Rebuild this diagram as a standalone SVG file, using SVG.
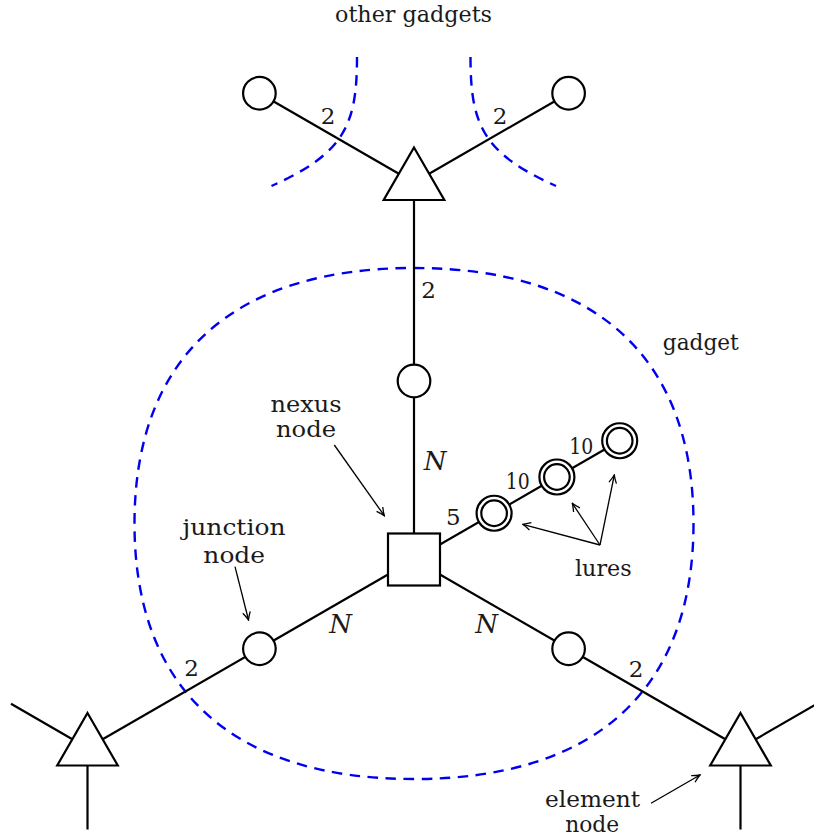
<svg xmlns="http://www.w3.org/2000/svg" width="814" height="839" viewBox="0 0 814 839">
<style>
.edge{stroke:#000;stroke-width:2.2;fill:none}
.node{stroke:#000;stroke-width:2.2;fill:#fff}
.gad{stroke:#0000f0;stroke-width:2.4;fill:none;stroke-dasharray:10.5 7.5}
.arr{stroke:#000;stroke-width:1.3;fill:none;marker-end:url(#ah)}
.lab{font-size:23px;text-anchor:middle}
.num{font-size:23px;text-anchor:middle}
.it{font-size:26px;font-style:italic;text-anchor:middle}
</style>
<defs>
<marker id="ah" viewBox="-9 -5 10 10" refX="0" refY="0" markerWidth="10" markerHeight="10" markerUnits="userSpaceOnUse" orient="auto">
<path d="M-8,-3.8 Q-3,-1 0,0 Q-3,1 -8,3.8" fill="none" stroke="#000" stroke-width="1.3"/>
</marker>
<path id="tri" d="M0,-35 L30.3,17.5 L-30.3,17.5 Z"/>
</defs>

<g id="gadget-boundaries">
<path class="gad" d="M693.5,523.5 C693.5,689.6 595.7,779 414,779 C232.3,779 134.5,689.6 134.5,523.5 C134.5,357.4 232.3,268 414,268 C595.7,268 693.5,357.4 693.5,523.5 Z"/>
<path class="gad" d="M357,57 C357,125 344.5,153.2 271.5,186"/>
<path class="gad" d="M470.5,57 C470.5,125 483,153.2 556,186"/>
</g>

<g id="connectors">
<line class="edge" x1="259.4" y1="93.25" x2="414" y2="182.5"/>
<line class="edge" x1="568.6" y1="93.25" x2="414" y2="182.5"/>
<line class="edge" x1="414" y1="182.5" x2="414" y2="381"/>
<line class="edge" x1="414" y1="381" x2="414" y2="559.5"/>
<line class="edge" x1="414" y1="559.5" x2="259.4" y2="648.75"/>
<line class="edge" x1="259.4" y1="648.75" x2="87.5" y2="748"/>
<line class="edge" x1="414" y1="559.5" x2="568.6" y2="648.75"/>
<line class="edge" x1="568.6" y1="648.75" x2="740.5" y2="748"/>
<line class="edge" x1="414" y1="559.5" x2="619.7" y2="440.75"/>
<line class="edge" x1="87.5" y1="748" x2="11" y2="703.8"/>
<line class="edge" x1="87.5" y1="748" x2="87.5" y2="829.5"/>
<line class="edge" x1="740.5" y1="748" x2="817" y2="703.8"/>
<line class="edge" x1="740.5" y1="748" x2="740.5" y2="829.5"/>
</g>

<g id="element-top"><use href="#tri" class="node" x="414" y="182.5"/></g>
<g id="element-bl"><use href="#tri" class="node" x="87.5" y="748"/></g>
<g id="element-br"><use href="#tri" class="node" x="740.5" y="748"/></g>
<g id="circle-top-left"><circle class="node" cx="259.4" cy="93.25" r="16.3"/></g>
<g id="circle-top-right"><circle class="node" cx="568.6" cy="93.25" r="16.3"/></g>
<g id="junction-top"><circle class="node" cx="414" cy="381" r="16.3"/></g>
<g id="junction-left"><circle class="node" cx="259.4" cy="648.75" r="16.3"/></g>
<g id="junction-right"><circle class="node" cx="568.6" cy="648.75" r="16.3"/></g>
<g id="nexus"><rect class="node" x="388" y="533.5" width="52" height="52"/></g>
<g id="lure1"><circle class="node" cx="494.1" cy="513.25" r="17.5"/><circle class="node" cx="494.1" cy="513.25" r="12.8"/></g>
<g id="lure2"><circle class="node" cx="556.9" cy="477" r="17.5"/><circle class="node" cx="556.9" cy="477" r="12.8"/></g>
<g id="lure3"><circle class="node" cx="619.7" cy="440.75" r="17.5"/><circle class="node" cx="619.7" cy="440.75" r="12.8"/></g>

<g id="edge-labels" font-family="DejaVu Serif" fill="#1a1a1a">
<text class="num" x="328" y="123.5">2</text>
<text class="num" x="500" y="123.5">2</text>
<text class="num" x="428.5" y="297.5">2</text>
<text class="it" x="435" y="469.5">N</text>
<text class="it" x="340.5" y="633.3">N</text>
<text class="it" x="486.5" y="633.3">N</text>
<text class="num" x="191.5" y="676">2</text>
<text class="num" x="636" y="676.5">2</text>
<text class="num" x="453.3" y="525">5</text>
<text class="num" x="517.7" y="489" textLength="24" lengthAdjust="spacingAndGlyphs">10</text>
<text class="num" x="581.3" y="454.3" textLength="24" lengthAdjust="spacingAndGlyphs">10</text>
</g>

<g id="annotations" font-family="DejaVu Serif" fill="#1a1a1a">
<text class="lab" x="413.5" y="21.5" font-size="22" textLength="157" lengthAdjust="spacingAndGlyphs">other gadgets</text>
<text class="lab" x="700.8" y="350" font-size="22" textLength="76" lengthAdjust="spacingAndGlyphs">gadget</text>
<text class="lab" x="306" y="411.5" font-size="24" textLength="71" lengthAdjust="spacingAndGlyphs">nexus</text>
<text class="lab" x="306" y="437" font-size="24" textLength="60" lengthAdjust="spacingAndGlyphs">node</text>
<text class="lab" x="234" y="535" font-size="24" textLength="103" lengthAdjust="spacingAndGlyphs">junction</text>
<text class="lab" x="234.2" y="563.3" font-size="24" textLength="61.7" lengthAdjust="spacingAndGlyphs">node</text>
<text class="lab" x="603.3" y="575.7" font-size="23" textLength="56.7" lengthAdjust="spacingAndGlyphs">lures</text>
<text class="lab" x="592.5" y="806.7" font-size="23" textLength="95" lengthAdjust="spacingAndGlyphs">element</text>
<text class="lab" x="592.2" y="831.7" font-size="23" textLength="54" lengthAdjust="spacingAndGlyphs">node</text>
</g>
<g id="arrows">
<line class="arr" x1="334.3" y1="445" x2="384.3" y2="515.7"/>
<line class="arr" x1="235" y1="566.7" x2="248.5" y2="620"/>
<line class="arr" x1="651" y1="803.3" x2="700" y2="775"/>
<line class="arr" x1="600" y1="545" x2="522.7" y2="524.3"/>
<line class="arr" x1="600" y1="545" x2="572.3" y2="503.3"/>
<line class="arr" x1="600" y1="545" x2="614.3" y2="475"/>
</g>
</svg>
